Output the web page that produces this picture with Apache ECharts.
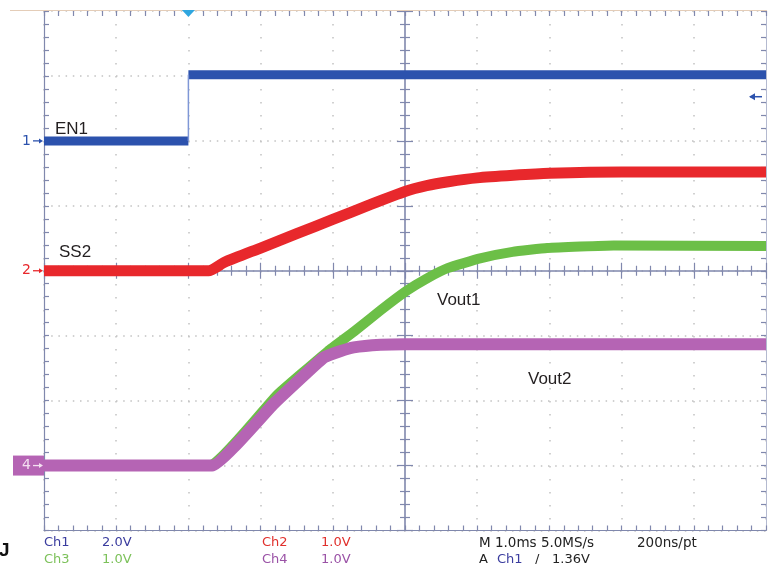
<!DOCTYPE html>
<html><head><meta charset="utf-8">
<script src="https://cdn.jsdelivr.net/npm/echarts@6/dist/echarts.min.js"></script>
<style>html,body{margin:0;padding:0;background:#fff}#c{width:774px;height:564px}</style>
</head><body><div id="c"></div>
<script>
// ---------- scope settings ----------
const timePerDiv = 1.0;          // ms / div
const triggerDiv = -3;           // trigger (t = 0) position, divisions from centre
const xDivRange = [-5, 5];
const yDivRange = [-4, 4];

// channel settings: volts/div and ground position (div from centre)
const ch1Scale = 2.0, ch1Offset = 2;
const ch2Scale = 1.0, ch2Offset = 0;
const ch3Scale = 1.0, ch3Offset = -3;
const ch4Scale = 1.0, ch4Offset = -3;
const ch1TriggerLevel = 1.36;

// ---------- traces (time in ms, value in V) ----------
const en1TimeLow  = [-2, 0];
const en1VoltsLow = [0, 0];
const en1TimeHigh  = [0, 8];
const en1VoltsHigh = [2.04, 2.04];

const ss2Time  = [-2, 0.28, 0.5, 1.0, 1.5, 2.0, 2.5, 3.0, 3.3, 3.6, 4.0, 4.5, 5.0, 6.0, 8.0];
const ss2Volts = [0, 0, 0.13, 0.35, 0.57, 0.79, 1.01, 1.22, 1.31, 1.37, 1.43, 1.47, 1.50, 1.52, 1.52];

const vout1Time  = [-2, 0.28, 1.23, 1.93, 2.29, 2.66, 3.02, 3.30, 3.59, 4.04, 4.49, 4.97, 5.89, 8.0];
const vout1Volts = [0, 0, 1.09, 1.76, 2.06, 2.39, 2.69, 2.88, 3.04, 3.19, 3.29, 3.35, 3.39, 3.38];

const vout2Time  = [-2, 0.33, 1.18, 1.87, 2.10, 2.29, 2.66, 3.0, 8.0];
const vout2Volts = [0, 0, 0.95, 1.66, 1.76, 1.82, 1.86, 1.87, 1.87];

// ---------- text ----------
const traceLabels = ['EN1', 'SS2', 'Vout1', 'Vout2'];
const statusRow1 = [['Ch1', '2.0V'], ['Ch2', '1.0V']];
const statusRow2 = [['Ch3', '1.0V'], ['Ch4', '1.0V']];
const timebaseText = 'M 1.0ms 5.0MS/s';
const recordText = '200ns/pt';
const triggerText = ['A', 'Ch1', '/', '1.36V'];

// ---------- helpers ----------
const toDivX = t => t / timePerDiv + triggerDiv;
const toPts = (ts, vs, scale, off) => ts.map((t, i) => [toDivX(t), vs[i] / scale + off]);

const AX = '#8088ad';
const DOT = '#c2c2c2';
const BLUE = '#2c52ad', RED = '#e8282c', GREEN = '#6cbf47', MAG = '#b564b4';

function xAx(extra) {
  return Object.assign({
    type: 'value', min: xDivRange[0], max: xDivRange[1], interval: 1,
    axisLabel: { show: false }, splitLine: { show: false },
    axisLine: { show: true, onZero: false, lineStyle: { color: AX, width: 1.2 } },
    axisTick: { show: true, inside: true, length: 5, lineStyle: { color: AX, width: 1.2 } },
    minorTick: { show: true, splitNumber: 5, length: 5, lineStyle: { color: AX, width: 1.2 } }
  }, extra);
}
function yAx(extra) {
  return Object.assign({
    type: 'value', min: yDivRange[0], max: yDivRange[1], interval: 1,
    axisLabel: { show: false }, splitLine: { show: false },
    axisLine: { show: true, onZero: false, lineStyle: { color: AX, width: 1.2 } },
    axisTick: { show: true, inside: true, length: 5, lineStyle: { color: AX, width: 1.2 } },
    minorTick: { show: true, splitNumber: 5, length: 5, lineStyle: { color: AX, width: 1.2 } }
  }, extra);
}

const option = {
  animation: false,
  backgroundColor: '#ffffff',
  grid: { left: 44, right: 8, top: 11, bottom: 33.5, containLabel: false, outerBoundsMode: 'none' },
  xAxis: [
    xAx({ position: 'bottom',
          splitLine: { show: true, lineStyle: { color: DOT, width: 1.5, type: [1.5, 11.5] } } }),
    xAx({ position: 'top', axisLine: { show: false, onZero: false } }),
    xAx({ position: 'bottom', axisLine: { show: true, onZero: true, onZeroAxisIndex: 0, lineStyle: { color: AX, width: 1.6 } },
          axisTick: { show: true, inside: true, length: 8, lineStyle: { color: AX, width: 1.2 } } }),
    xAx({ position: 'bottom', axisLine: { show: false, onZero: true, onZeroAxisIndex: 0 },
          axisTick: { show: true, inside: false, length: 8, lineStyle: { color: AX, width: 1.2 } } })
  ],
  yAxis: [
    yAx({ position: 'left',
          splitLine: { show: true, lineStyle: { color: DOT, width: 1.5, type: [1.5, 5.7] } } }),
    yAx({ position: 'right', axisLine: { show: true, onZero: false, lineStyle: { color: '#b4bad0', width: 1 } } }),
    yAx({ position: 'left', axisLine: { show: true, onZero: true, onZeroAxisIndex: 0, lineStyle: { color: AX, width: 1.6 } },
          axisTick: { show: true, inside: true, length: 8, lineStyle: { color: AX, width: 1.2 } } }),
    yAx({ position: 'left', axisLine: { show: false, onZero: true, onZeroAxisIndex: 0 },
          axisTick: { show: true, inside: false, length: 8, lineStyle: { color: AX, width: 1.2 } } })
  ],
  series: [
    { name: 'EN1 low', type: 'line', data: toPts(en1TimeLow, en1VoltsLow, ch1Scale, ch1Offset),
      showSymbol: false, lineStyle: { color: BLUE, width: 9, cap: 'butt' }, z: 3 },
    { name: 'EN1 high', type: 'line', data: toPts(en1TimeHigh, en1VoltsHigh, ch1Scale, ch1Offset),
      showSymbol: false, lineStyle: { color: BLUE, width: 9, cap: 'butt' }, z: 3 },
    { name: 'EN1 edge', type: 'line',
      data: toPts([en1TimeLow[1], en1TimeHigh[0]], [en1VoltsLow[1], en1VoltsHigh[0]], ch1Scale, ch1Offset),
      showSymbol: false, lineStyle: { color: '#7f97d6', width: 1.5 }, z: 3 },
    { name: 'SS2', type: 'line', data: toPts(ss2Time, ss2Volts, ch2Scale, ch2Offset), smooth: 0.2,
      showSymbol: false, lineStyle: { color: RED, width: 11, cap: 'butt', join: 'round' }, z: 3 },
    { name: 'Vout1', type: 'line', data: toPts(vout1Time, vout1Volts, ch3Scale, ch3Offset), smooth: 0.12,
      showSymbol: false, lineStyle: { color: GREEN, width: 10, cap: 'butt', join: 'round' }, z: 3 },
    { name: 'Vout2', type: 'line', data: toPts(vout2Time, vout2Volts, ch4Scale, ch4Offset), smooth: 0.1,
      showSymbol: false, lineStyle: { color: MAG, width: 12, cap: 'butt', join: 'round' }, z: 4 }
  ]
};

const chart = echarts.init(document.getElementById('c'), null, { renderer: 'canvas' });
chart.setOption(option);

const px = (xd, yd) => chart.convertToPixel({ xAxisIndex: 0, yAxisIndex: 0 }, [xd, yd]);
const gL = px(xDivRange[0], 0)[0], gR = px(xDivRange[1], 0)[0], gT = px(0, yDivRange[1])[1];

function groundMarker(label, yDiv, color, boxed) {
  const y = px(0, yDiv)[1];
  const els = [];
  if (boxed) els.push({ type: 'rect', shape: { x: gL - 31, y: y - 10, width: 31, height: 20 }, style: { fill: MAG }, z: 10 });
  const c = boxed ? '#f3dff0' : color;
  els.push({ type: 'text', x: gL - 22, y: y, style: { text: label, fill: c, font: '14px "DejaVu Sans"', align: 'left', verticalAlign: 'middle' }, z: 11 });
  els.push({ type: 'line', shape: { x1: gL - 11, y1: y, x2: gL - 3, y2: y }, style: { stroke: c, lineWidth: 1.3 }, z: 11 });
  els.push({ type: 'polygon', shape: { points: [[gL - 1, y], [gL - 5, y - 2.5], [gL - 5, y + 2.5]] }, style: { fill: c }, z: 11 });
  return els;
}

const trigX = px(toDivX(0), 0)[0];
const trigLvlY = px(0, ch1TriggerLevel / ch1Scale + ch1Offset)[1];

const T = (text, x, y, fill, font, extra) => Object.assign({ type: 'text', x, y, z: 12,
  style: { text, fill, font: font || '13px "DejaVu Sans"', align: 'left', verticalAlign: 'middle' } }, extra || {});
const LBL = '17px "Liberation Sans"';

const graphic = [].concat(
  [{ type: 'line', shape: { x1: 10, y1: gT - 0.5, x2: gR + 1, y2: gT - 0.5 }, style: { stroke: '#e4cdb8', lineWidth: 1.2 }, z: 9 }],
  groundMarker('1', ch1Offset, BLUE, false),
  groundMarker('2', ch2Offset, RED, false),
  groundMarker('4', ch4Offset, MAG, true),
  [
    { type: 'polygon', shape: { points: [[trigX - 6.5, gT - 1], [trigX + 6.5, gT - 1], [trigX, gT + 6]] }, style: { fill: '#2fa6df' }, z: 12 },
    { type: 'line', shape: { x1: gR - 16, y1: trigLvlY, x2: gR - 4, y2: trigLvlY }, style: { stroke: BLUE, lineWidth: 1.5 }, z: 12 },
    { type: 'polygon', shape: { points: [[gR - 17, trigLvlY], [gR - 11, trigLvlY - 3.5], [gR - 11, trigLvlY + 3.5]] }, style: { fill: BLUE }, z: 12 },
    T(traceLabels[0], 55, 129, '#231f20', LBL),
    T(traceLabels[1], 59, 252, '#231f20', LBL),
    T(traceLabels[2], 437, 300, '#231f20', LBL),
    T(traceLabels[3], 528, 379, '#231f20', LBL),
    T(statusRow1[0][0], 44, 543, '#3a3c9e'), T(statusRow1[0][1], 102, 543, '#3a3c9e'),
    T(statusRow1[1][0], 262, 543, '#e0302c'), T(statusRow1[1][1], 321, 543, '#e0302c'),
    T(statusRow2[0][0], 44, 560, '#7cc15a'), T(statusRow2[0][1], 102, 560, '#7cc15a'),
    T(statusRow2[1][0], 262, 560, '#9a52a6'), T(statusRow2[1][1], 321, 560, '#9a52a6'),
    T(timebaseText, 479, 543, '#222222', '13.5px "DejaVu Sans"'),
    T(recordText, 637, 543, '#222222', '13.5px "DejaVu Sans"'),
    T(triggerText[0], 479, 560, '#222222'),
    T(triggerText[1], 497, 560, '#3a3c9e'),
    T(triggerText[2], 535, 560, '#222222'),
    T(triggerText[3], 552, 560, '#222222'),
    T('J', -1, 551, '#111111', 'bold 19px "Liberation Sans"')
  ]
);
chart.setOption({ graphic: graphic });
</script>
</body></html>
